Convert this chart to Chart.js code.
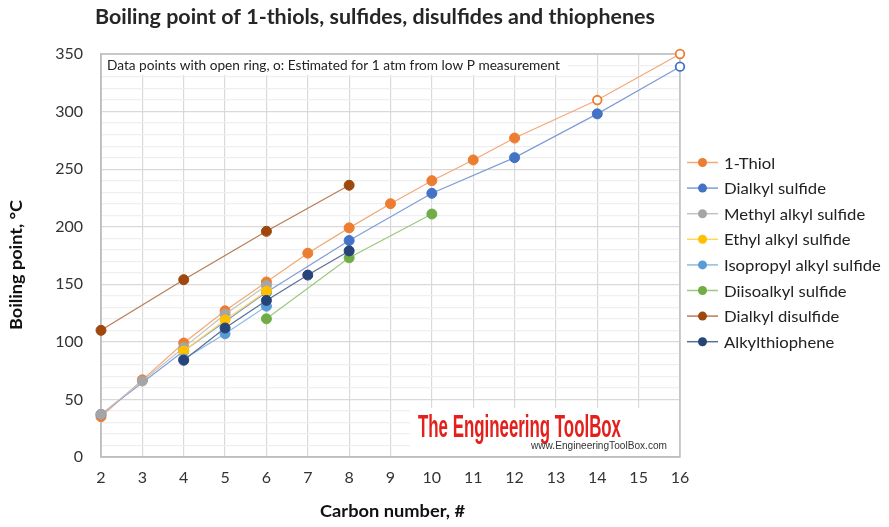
<!DOCTYPE html>
<html>
<head>
<meta charset="utf-8">
<script src="https://cdn.jsdelivr.net/npm/chart.js@4.4.1/dist/chart.umd.min.js"></script>
<style>
  html, body { margin: 0; padding: 0; background: #fff; }
  #wrap { width: 889px; height: 527px; position: relative; }
</style>
</head>
<body>
<div id="wrap"><canvas id="bpChart" width="889" height="527"></canvas></div>
<script>
// Boiling point (deg C) vs carbon number
const thiolC = [2, 3, 4, 5, 6, 7, 8, 9, 10, 11, 12, 14, 16];
const thiolBp = [35, 67, 99, 127, 152, 177, 199, 220, 240, 258, 277, 310, 350];
const thiolEst = [14, 16]; // open ring points

const dialkylC = [2, 4, 6, 8, 10, 12, 14, 16];
const dialkylBp = [37, 92, 143, 188, 229, 260, 298, 339];
const dialkylEst = [16];

const methylC = [2, 3, 4, 5, 6];
const methylBp = [37, 66, 95, 124, 149];

const ethylC = [4, 5, 6];
const ethylBp = [92, 119, 144];

const isopropylC = [4, 5, 6];
const isopropylBp = [85, 107, 131];

const diisoC = [6, 8, 10];
const diisoBp = [120, 173, 211];

const disulfideC = [2, 4, 6, 8];
const disulfideBp = [110, 154, 196, 236];

const thiopheneC = [4, 5, 6, 7, 8];
const thiopheneBp = [84, 112, 136, 158, 179];

const xTicks = { min: 2, max: 16, step: 1 };
const yTicks = { min: 0, max: 350, step: 50 };

const FONT = "Lato, 'Open Sans', sans-serif";

function series(label, xs, ys, est, color, lineColor) {
  est = est || [];
  return {
    label: label,
    data: xs.map((x, i) => ({ x: x, y: ys[i] })),
    borderColor: lineColor,
    borderWidth: 1.2,
    pointBackgroundColor: xs.map(x => est.includes(x) ? "#ffffff" : color),
    pointBorderColor: color,
    pointBorderWidth: xs.map(x => est.includes(x) ? 1.8 : 1),
    pointRadius: xs.map(x => est.includes(x) ? 4.3 : 5),
    pointHoverRadius: 5,
    markerColor: color,
    clip: false,
    tension: 0,
  };
}

const datasets = [
  series("1-Thiol", thiolC, thiolBp, thiolEst, "#ED7D31", "#F2A978"),
  series("Dialkyl sulfide", dialkylC, dialkylBp, dialkylEst, "#4472C4", "#7F9DD6"),
  series("Methyl alkyl sulfide", methylC, methylBp, null, "#A5A5A5", "#C2C2C2"),
  series("Ethyl alkyl sulfide", ethylC, ethylBp, null, "#FFC000", "#FFD659"),
  series("Isopropyl alkyl sulfide", isopropylC, isopropylBp, null, "#5B9BD5", "#8FBBE3"),
  series("Diisoalkyl sulfide", diisoC, diisoBp, null, "#70AD47", "#9DC87F"),
  series("Dialkyl disulfide", disulfideC, disulfideBp, null, "#9E480E", "#B97C55"),
  series("Alkylthiophene", thiopheneC, thiopheneBp, null, "#264478", "#5A6F95"),
];
// later series drawn on top, like the original
datasets.forEach((d, i) => { d.order = datasets.length - i; });

// draw text squeezed/stretched to a given width
function fitText(ctx, text, x, y, width) {
  const w = ctx.measureText(text).width;
  ctx.save();
  ctx.translate(x, y);
  ctx.scale(width / w, 1);
  ctx.fillText(text, 0, 0);
  ctx.restore();
}

const decorations = {
  id: "decorations",
  beforeDatasetsDraw(chart) {
    const ctx = chart.ctx;
    const a = chart.chartArea;
    ctx.save();
    // note box
    ctx.fillStyle = "#ffffff";
    ctx.fillRect(a.left + 1, a.top + 1, 466, 20);
    ctx.fillStyle = "#222";
    ctx.font = "14px " + FONT;
    ctx.textBaseline = "middle";
    ctx.textAlign = "left";
    fitText(ctx, "Data points with open ring, o: Estimated for 1 atm from low P measurement", a.left + 6, a.top + 11, 453);

    // watermark
    ctx.fillStyle = "#ffffff";
    ctx.fillRect(410, 408, a.right - 411, a.bottom - 409);
    ctx.fillStyle = "#E3201B";
    ctx.font = "bold 32px 'Liberation Sans', Arial, sans-serif";
    ctx.textBaseline = "alphabetic";
    fitText(ctx, "The Engineering ToolBox", 418, 437, 203);
    ctx.fillStyle = "#333";
    ctx.font = "10px 'Liberation Sans', Arial, sans-serif";
    fitText(ctx, "www.EngineeringToolBox.com", 531, 449, 136);

    // plot border
    ctx.strokeStyle = "#BFBFBF";
    ctx.lineWidth = 1.5;
    ctx.strokeRect(a.left, a.top, a.right - a.left, a.bottom - a.top);
    ctx.restore();
  },
  afterDraw(chart) {
    const ctx = chart.ctx;
    ctx.save();
    ctx.textAlign = "left";
    ctx.textBaseline = "middle";
    // title
    ctx.fillStyle = "#262626";
    ctx.font = "bold 20px " + FONT;
    fitText(ctx, "Boiling point of 1-thiols, sulfides, disulfides and thiophenes", 95, 18, 560);
    // axis titles
    ctx.fillStyle = "#111";
    ctx.font = "bold 17px " + FONT;
    fitText(ctx, "Carbon number, #", 320, 512, 145);
    ctx.translate(17, 330);
    ctx.rotate(-Math.PI / 2);
    fitText(ctx, "Boiling point, \u00B0C", 0, 0, 130);
    ctx.restore();

    // legend
    ctx.save();
    ctx.font = "16px " + FONT;
    ctx.textAlign = "left";
    ctx.textBaseline = "middle";
    chart.data.datasets.forEach((d, i) => {
      const y = 162.5 + i * 25.6;
      ctx.strokeStyle = d.borderColor;
      ctx.lineWidth = 1.5;
      ctx.beginPath();
      ctx.moveTo(687, y);
      ctx.lineTo(718, y);
      ctx.stroke();
      ctx.fillStyle = d.markerColor;
      ctx.beginPath();
      ctx.arc(702.5, y, 4.5, 0, Math.PI * 2);
      ctx.fill();
      ctx.fillStyle = "#222";
      const tw = ctx.measureText(d.label).width;
      fitText(ctx, d.label, 724, y + 1, tw * 1.04);
    });
    ctx.restore();
  },
};

new Chart(document.getElementById("bpChart"), {
  type: "line",
  data: { datasets: datasets },
  options: {
    responsive: false,
    animation: false,
    layout: { padding: { top: 54, right: 209, left: 0, bottom: 0 } },
    scales: {
      x: {
        type: "linear",
        min: xTicks.min,
        max: xTicks.max,
        afterFit: (s) => { s.height = 70; },
        ticks: {
          stepSize: xTicks.step,
          color: "#333",
          font: { family: FONT, size: 16 },
          padding: 11,
        },
        grid: { color: "#D9D9D9", lineWidth: 1.2, drawTicks: false },
        border: { color: "#BFBFBF", width: 1.5 },
      },
      y: {
        min: yTicks.min,
        max: yTicks.max,
        afterFit: (s) => { s.width = 101; },
        ticks: {
          stepSize: 10,
          color: "#333",
          font: { family: FONT, size: 16 },
          padding: 18,
          autoSkip: false,
          callback: (v) => (v % yTicks.step === 0 ? v : ""),
        },
        grid: {
          drawTicks: false,
          color: (c) => (c.tick && c.tick.value % yTicks.step === 0 ? "#D9D9D9" : "#EFEFEF"),
          lineWidth: 1.2,
        },
        border: { color: "#BFBFBF", width: 1.5 },
      },
    },
    plugins: {
      legend: { display: false },
      title: { display: false },
      tooltip: { enabled: false },
    },
  },
  plugins: [decorations],
});
</script>
</body>
</html>
